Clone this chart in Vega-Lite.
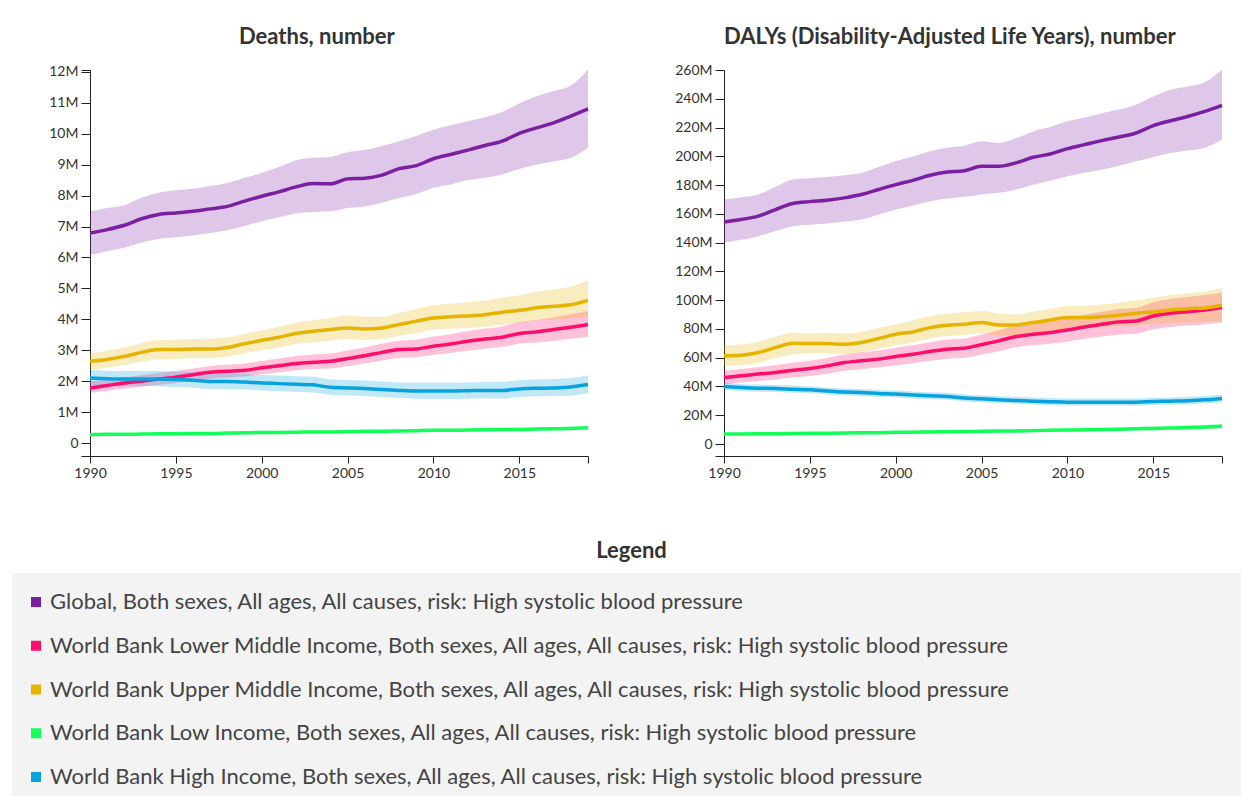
{
  "$schema": "https://vega.github.io/schema/vega-lite/v6.json",
  "padding": {"left": 12, "top": 26, "right": 0, "bottom": 0},
  "background": "white",
  "datasets": {
    "deaths": [
      {"series":"Global","year":1990,"value":6.79,"lower":6.09,"upper":7.49},
      {"series":"Global","year":1991,"value":6.90,"lower":6.20,"upper":7.60},
      {"series":"Global","year":1992,"value":7.04,"lower":6.31,"upper":7.69},
      {"series":"Global","year":1993,"value":7.25,"lower":6.48,"upper":7.93},
      {"series":"Global","year":1994,"value":7.39,"lower":6.60,"upper":8.09},
      {"series":"Global","year":1995,"value":7.44,"lower":6.65,"upper":8.17},
      {"series":"Global","year":1996,"value":7.49,"lower":6.71,"upper":8.22},
      {"series":"Global","year":1997,"value":7.57,"lower":6.79,"upper":8.31},
      {"series":"Global","year":1998,"value":7.65,"lower":6.88,"upper":8.41},
      {"series":"Global","year":1999,"value":7.82,"lower":7.02,"upper":8.57},
      {"series":"Global","year":2000,"value":7.98,"lower":7.17,"upper":8.73},
      {"series":"Global","year":2001,"value":8.12,"lower":7.30,"upper":8.92},
      {"series":"Global","year":2002,"value":8.28,"lower":7.42,"upper":9.14},
      {"series":"Global","year":2003,"value":8.39,"lower":7.47,"upper":9.22},
      {"series":"Global","year":2004,"value":8.38,"lower":7.49,"upper":9.25},
      {"series":"Global","year":2005,"value":8.54,"lower":7.60,"upper":9.40},
      {"series":"Global","year":2006,"value":8.56,"lower":7.65,"upper":9.47},
      {"series":"Global","year":2007,"value":8.66,"lower":7.77,"upper":9.60},
      {"series":"Global","year":2008,"value":8.87,"lower":7.92,"upper":9.76},
      {"series":"Global","year":2009,"value":8.97,"lower":8.05,"upper":9.93},
      {"series":"Global","year":2010,"value":9.19,"lower":8.25,"upper":10.13},
      {"series":"Global","year":2011,"value":9.33,"lower":8.36,"upper":10.27},
      {"series":"Global","year":2012,"value":9.47,"lower":8.50,"upper":10.40},
      {"series":"Global","year":2013,"value":9.62,"lower":8.58,"upper":10.53},
      {"series":"Global","year":2014,"value":9.76,"lower":8.68,"upper":10.70},
      {"series":"Global","year":2015,"value":10.01,"lower":8.86,"upper":10.98},
      {"series":"Global","year":2016,"value":10.19,"lower":9.00,"upper":11.21},
      {"series":"Global","year":2017,"value":10.35,"lower":9.10,"upper":11.38},
      {"series":"Global","year":2018,"value":10.57,"lower":9.22,"upper":11.56},
      {"series":"Global","year":2019,"value":10.80,"lower":9.55,"upper":12.08},
      {"series":"LowerMiddle","year":1990,"value":1.78,"lower":1.62,"upper":1.99},
      {"series":"LowerMiddle","year":1991,"value":1.86,"lower":1.69,"upper":2.05},
      {"series":"LowerMiddle","year":1992,"value":1.94,"lower":1.76,"upper":2.12},
      {"series":"LowerMiddle","year":1993,"value":2.00,"lower":1.82,"upper":2.19},
      {"series":"LowerMiddle","year":1994,"value":2.07,"lower":1.88,"upper":2.26},
      {"series":"LowerMiddle","year":1995,"value":2.13,"lower":1.94,"upper":2.33},
      {"series":"LowerMiddle","year":1996,"value":2.21,"lower":2.01,"upper":2.41},
      {"series":"LowerMiddle","year":1997,"value":2.29,"lower":2.08,"upper":2.49},
      {"series":"LowerMiddle","year":1998,"value":2.32,"lower":2.12,"upper":2.53},
      {"series":"LowerMiddle","year":1999,"value":2.35,"lower":2.15,"upper":2.57},
      {"series":"LowerMiddle","year":2000,"value":2.43,"lower":2.22,"upper":2.65},
      {"series":"LowerMiddle","year":2001,"value":2.50,"lower":2.28,"upper":2.73},
      {"series":"LowerMiddle","year":2002,"value":2.57,"lower":2.35,"upper":2.81},
      {"series":"LowerMiddle","year":2003,"value":2.61,"lower":2.39,"upper":2.86},
      {"series":"LowerMiddle","year":2004,"value":2.64,"lower":2.41,"upper":2.89},
      {"series":"LowerMiddle","year":2005,"value":2.73,"lower":2.49,"upper":2.99},
      {"series":"LowerMiddle","year":2006,"value":2.82,"lower":2.57,"upper":3.09},
      {"series":"LowerMiddle","year":2007,"value":2.93,"lower":2.67,"upper":3.21},
      {"series":"LowerMiddle","year":2008,"value":3.02,"lower":2.75,"upper":3.31},
      {"series":"LowerMiddle","year":2009,"value":3.04,"lower":2.77,"upper":3.34},
      {"series":"LowerMiddle","year":2010,"value":3.13,"lower":2.85,"upper":3.44},
      {"series":"LowerMiddle","year":2011,"value":3.20,"lower":2.91,"upper":3.52},
      {"series":"LowerMiddle","year":2012,"value":3.29,"lower":2.99,"upper":3.62},
      {"series":"LowerMiddle","year":2013,"value":3.36,"lower":3.05,"upper":3.70},
      {"series":"LowerMiddle","year":2014,"value":3.42,"lower":3.11,"upper":3.77},
      {"series":"LowerMiddle","year":2015,"value":3.54,"lower":3.21,"upper":3.91},
      {"series":"LowerMiddle","year":2016,"value":3.59,"lower":3.25,"upper":3.98},
      {"series":"LowerMiddle","year":2017,"value":3.67,"lower":3.31,"upper":4.07},
      {"series":"LowerMiddle","year":2018,"value":3.74,"lower":3.37,"upper":4.16},
      {"series":"LowerMiddle","year":2019,"value":3.83,"lower":3.43,"upper":4.27},
      {"series":"UpperMiddle","year":1990,"value":2.64,"lower":2.37,"upper":2.91},
      {"series":"UpperMiddle","year":1991,"value":2.70,"lower":2.43,"upper":2.98},
      {"series":"UpperMiddle","year":1992,"value":2.80,"lower":2.52,"upper":3.09},
      {"series":"UpperMiddle","year":1993,"value":2.93,"lower":2.63,"upper":3.23},
      {"series":"UpperMiddle","year":1994,"value":3.02,"lower":2.71,"upper":3.33},
      {"series":"UpperMiddle","year":1995,"value":3.02,"lower":2.72,"upper":3.34},
      {"series":"UpperMiddle","year":1996,"value":3.04,"lower":2.74,"upper":3.36},
      {"series":"UpperMiddle","year":1997,"value":3.04,"lower":2.75,"upper":3.37},
      {"series":"UpperMiddle","year":1998,"value":3.09,"lower":2.79,"upper":3.41},
      {"series":"UpperMiddle","year":1999,"value":3.21,"lower":2.90,"upper":3.53},
      {"series":"UpperMiddle","year":2000,"value":3.32,"lower":3.00,"upper":3.64},
      {"series":"UpperMiddle","year":2001,"value":3.42,"lower":3.09,"upper":3.76},
      {"series":"UpperMiddle","year":2002,"value":3.54,"lower":3.20,"upper":3.89},
      {"series":"UpperMiddle","year":2003,"value":3.61,"lower":3.26,"upper":3.97},
      {"series":"UpperMiddle","year":2004,"value":3.67,"lower":3.31,"upper":4.04},
      {"series":"UpperMiddle","year":2005,"value":3.72,"lower":3.36,"upper":4.12},
      {"series":"UpperMiddle","year":2006,"value":3.69,"lower":3.33,"upper":4.08},
      {"series":"UpperMiddle","year":2007,"value":3.72,"lower":3.36,"upper":4.08},
      {"series":"UpperMiddle","year":2008,"value":3.83,"lower":3.46,"upper":4.20},
      {"series":"UpperMiddle","year":2009,"value":3.94,"lower":3.56,"upper":4.33},
      {"series":"UpperMiddle","year":2010,"value":4.04,"lower":3.66,"upper":4.45},
      {"series":"UpperMiddle","year":2011,"value":4.08,"lower":3.70,"upper":4.50},
      {"series":"UpperMiddle","year":2012,"value":4.11,"lower":3.72,"upper":4.55},
      {"series":"UpperMiddle","year":2013,"value":4.15,"lower":3.76,"upper":4.60},
      {"series":"UpperMiddle","year":2014,"value":4.23,"lower":3.83,"upper":4.70},
      {"series":"UpperMiddle","year":2015,"value":4.29,"lower":3.89,"upper":4.78},
      {"series":"UpperMiddle","year":2016,"value":4.37,"lower":3.95,"upper":4.89},
      {"series":"UpperMiddle","year":2017,"value":4.42,"lower":3.99,"upper":4.97},
      {"series":"UpperMiddle","year":2018,"value":4.47,"lower":4.03,"upper":5.06},
      {"series":"UpperMiddle","year":2019,"value":4.61,"lower":4.10,"upper":5.26},
      {"series":"Low","year":1990,"value":0.27,"lower":0.24,"upper":0.30},
      {"series":"Low","year":1991,"value":0.28,"lower":0.25,"upper":0.31},
      {"series":"Low","year":1992,"value":0.28,"lower":0.25,"upper":0.31},
      {"series":"Low","year":1993,"value":0.29,"lower":0.26,"upper":0.32},
      {"series":"Low","year":1994,"value":0.30,"lower":0.27,"upper":0.33},
      {"series":"Low","year":1995,"value":0.30,"lower":0.27,"upper":0.33},
      {"series":"Low","year":1996,"value":0.31,"lower":0.28,"upper":0.34},
      {"series":"Low","year":1997,"value":0.31,"lower":0.28,"upper":0.35},
      {"series":"Low","year":1998,"value":0.32,"lower":0.29,"upper":0.36},
      {"series":"Low","year":1999,"value":0.33,"lower":0.29,"upper":0.37},
      {"series":"Low","year":2000,"value":0.34,"lower":0.30,"upper":0.38},
      {"series":"Low","year":2001,"value":0.34,"lower":0.30,"upper":0.38},
      {"series":"Low","year":2002,"value":0.35,"lower":0.31,"upper":0.39},
      {"series":"Low","year":2003,"value":0.36,"lower":0.32,"upper":0.40},
      {"series":"Low","year":2004,"value":0.36,"lower":0.32,"upper":0.40},
      {"series":"Low","year":2005,"value":0.37,"lower":0.33,"upper":0.41},
      {"series":"Low","year":2006,"value":0.38,"lower":0.34,"upper":0.42},
      {"series":"Low","year":2007,"value":0.38,"lower":0.34,"upper":0.43},
      {"series":"Low","year":2008,"value":0.39,"lower":0.35,"upper":0.44},
      {"series":"Low","year":2009,"value":0.40,"lower":0.36,"upper":0.45},
      {"series":"Low","year":2010,"value":0.41,"lower":0.36,"upper":0.46},
      {"series":"Low","year":2011,"value":0.41,"lower":0.37,"upper":0.46},
      {"series":"Low","year":2012,"value":0.42,"lower":0.37,"upper":0.47},
      {"series":"Low","year":2013,"value":0.43,"lower":0.38,"upper":0.48},
      {"series":"Low","year":2014,"value":0.44,"lower":0.39,"upper":0.49},
      {"series":"Low","year":2015,"value":0.44,"lower":0.39,"upper":0.50},
      {"series":"Low","year":2016,"value":0.45,"lower":0.40,"upper":0.51},
      {"series":"Low","year":2017,"value":0.46,"lower":0.41,"upper":0.52},
      {"series":"Low","year":2018,"value":0.47,"lower":0.42,"upper":0.53},
      {"series":"Low","year":2019,"value":0.49,"lower":0.43,"upper":0.55},
      {"series":"High","year":1990,"value":2.10,"lower":1.87,"upper":2.36},
      {"series":"High","year":1991,"value":2.08,"lower":1.85,"upper":2.34},
      {"series":"High","year":1992,"value":2.07,"lower":1.84,"upper":2.33},
      {"series":"High","year":1993,"value":2.07,"lower":1.84,"upper":2.33},
      {"series":"High","year":1994,"value":2.07,"lower":1.83,"upper":2.33},
      {"series":"High","year":1995,"value":2.05,"lower":1.81,"upper":2.31},
      {"series":"High","year":1996,"value":2.03,"lower":1.79,"upper":2.29},
      {"series":"High","year":1997,"value":1.99,"lower":1.75,"upper":2.25},
      {"series":"High","year":1998,"value":1.99,"lower":1.75,"upper":2.25},
      {"series":"High","year":1999,"value":1.97,"lower":1.73,"upper":2.23},
      {"series":"High","year":2000,"value":1.94,"lower":1.70,"upper":2.20},
      {"series":"High","year":2001,"value":1.92,"lower":1.67,"upper":2.18},
      {"series":"High","year":2002,"value":1.90,"lower":1.65,"upper":2.16},
      {"series":"High","year":2003,"value":1.88,"lower":1.63,"upper":2.14},
      {"series":"High","year":2004,"value":1.80,"lower":1.56,"upper":2.06},
      {"series":"High","year":2005,"value":1.78,"lower":1.54,"upper":2.04},
      {"series":"High","year":2006,"value":1.76,"lower":1.52,"upper":2.02},
      {"series":"High","year":2007,"value":1.73,"lower":1.49,"upper":1.99},
      {"series":"High","year":2008,"value":1.70,"lower":1.46,"upper":1.96},
      {"series":"High","year":2009,"value":1.68,"lower":1.43,"upper":1.95},
      {"series":"High","year":2010,"value":1.68,"lower":1.42,"upper":1.95},
      {"series":"High","year":2011,"value":1.68,"lower":1.42,"upper":1.95},
      {"series":"High","year":2012,"value":1.69,"lower":1.43,"upper":1.96},
      {"series":"High","year":2013,"value":1.70,"lower":1.44,"upper":1.97},
      {"series":"High","year":2014,"value":1.70,"lower":1.44,"upper":1.98},
      {"series":"High","year":2015,"value":1.75,"lower":1.49,"upper":2.03},
      {"series":"High","year":2016,"value":1.77,"lower":1.51,"upper":2.05},
      {"series":"High","year":2017,"value":1.78,"lower":1.52,"upper":2.07},
      {"series":"High","year":2018,"value":1.81,"lower":1.54,"upper":2.10},
      {"series":"High","year":2019,"value":1.89,"lower":1.61,"upper":2.18}
    ],
    "dalys": [
      {"series":"Global","year":1990,"value":154.4,"lower":139.9,"upper":169.9},
      {"series":"Global","year":1991,"value":156.1,"lower":142.0,"upper":171.5},
      {"series":"Global","year":1992,"value":158.4,"lower":144.5,"upper":173.4},
      {"series":"Global","year":1993,"value":163.0,"lower":148.0,"upper":178.8},
      {"series":"Global","year":1994,"value":167.2,"lower":151.4,"upper":183.8},
      {"series":"Global","year":1995,"value":168.5,"lower":152.5,"upper":184.8},
      {"series":"Global","year":1996,"value":169.5,"lower":153.3,"upper":185.6},
      {"series":"Global","year":1997,"value":171.1,"lower":154.6,"upper":186.9},
      {"series":"Global","year":1998,"value":173.4,"lower":156.1,"upper":188.4},
      {"series":"Global","year":1999,"value":176.9,"lower":159.6,"upper":192.6},
      {"series":"Global","year":2000,"value":180.3,"lower":163.0,"upper":196.5},
      {"series":"Global","year":2001,"value":183.3,"lower":165.8,"upper":199.8},
      {"series":"Global","year":2002,"value":186.8,"lower":168.8,"upper":203.5},
      {"series":"Global","year":2003,"value":189.1,"lower":170.7,"upper":206.0},
      {"series":"Global","year":2004,"value":190.0,"lower":171.8,"upper":207.4},
      {"series":"Global","year":2005,"value":193.1,"lower":173.5,"upper":210.4},
      {"series":"Global","year":2006,"value":193.1,"lower":174.6,"upper":209.2},
      {"series":"Global","year":2007,"value":195.4,"lower":177.0,"upper":212.5},
      {"series":"Global","year":2008,"value":199.3,"lower":180.3,"upper":217.3},
      {"series":"Global","year":2009,"value":201.6,"lower":183.0,"upper":220.3},
      {"series":"Global","year":2010,"value":205.3,"lower":186.1,"upper":224.3},
      {"series":"Global","year":2011,"value":208.1,"lower":188.5,"upper":227.0},
      {"series":"Global","year":2012,"value":210.9,"lower":190.7,"upper":230.0},
      {"series":"Global","year":2013,"value":213.4,"lower":193.5,"upper":232.5},
      {"series":"Global","year":2014,"value":216.2,"lower":196.5,"upper":235.8},
      {"series":"Global","year":2015,"value":221.3,"lower":199.5,"upper":241.5},
      {"series":"Global","year":2016,"value":224.7,"lower":202.3,"upper":246.2},
      {"series":"Global","year":2017,"value":227.7,"lower":204.0,"upper":248.5},
      {"series":"Global","year":2018,"value":231.2,"lower":206.0,"upper":251.5},
      {"series":"Global","year":2019,"value":235.4,"lower":211.5,"upper":260.1},
      {"series":"LowerMiddle","year":1990,"value":46.2,"lower":41.6,"upper":50.9},
      {"series":"LowerMiddle","year":1991,"value":47.4,"lower":42.7,"upper":52.2},
      {"series":"LowerMiddle","year":1992,"value":48.6,"lower":43.8,"upper":53.5},
      {"series":"LowerMiddle","year":1993,"value":49.7,"lower":44.8,"upper":54.8},
      {"series":"LowerMiddle","year":1994,"value":51.3,"lower":46.2,"upper":56.5},
      {"series":"LowerMiddle","year":1995,"value":52.5,"lower":47.3,"upper":57.9},
      {"series":"LowerMiddle","year":1996,"value":54.3,"lower":48.9,"upper":59.8},
      {"series":"LowerMiddle","year":1997,"value":56.6,"lower":51.0,"upper":62.3},
      {"series":"LowerMiddle","year":1998,"value":57.8,"lower":52.0,"upper":63.7},
      {"series":"LowerMiddle","year":1999,"value":59.0,"lower":53.1,"upper":65.0},
      {"series":"LowerMiddle","year":2000,"value":60.8,"lower":54.7,"upper":67.0},
      {"series":"LowerMiddle","year":2001,"value":62.4,"lower":56.2,"upper":68.7},
      {"series":"LowerMiddle","year":2002,"value":64.3,"lower":57.9,"upper":70.8},
      {"series":"LowerMiddle","year":2003,"value":65.9,"lower":59.3,"upper":72.6},
      {"series":"LowerMiddle","year":2004,"value":66.6,"lower":59.9,"upper":73.4},
      {"series":"LowerMiddle","year":2005,"value":69.1,"lower":62.2,"upper":76.1},
      {"series":"LowerMiddle","year":2006,"value":71.7,"lower":64.5,"upper":79.0},
      {"series":"LowerMiddle","year":2007,"value":74.7,"lower":67.2,"upper":82.3},
      {"series":"LowerMiddle","year":2008,"value":76.3,"lower":68.6,"upper":84.1},
      {"series":"LowerMiddle","year":2009,"value":77.5,"lower":69.7,"upper":85.5},
      {"series":"LowerMiddle","year":2010,"value":79.3,"lower":71.3,"upper":87.5},
      {"series":"LowerMiddle","year":2011,"value":81.4,"lower":73.1,"upper":89.9},
      {"series":"LowerMiddle","year":2012,"value":83.2,"lower":74.7,"upper":91.9},
      {"series":"LowerMiddle","year":2013,"value":84.9,"lower":76.2,"upper":93.8},
      {"series":"LowerMiddle","year":2014,"value":85.5,"lower":76.7,"upper":94.6},
      {"series":"LowerMiddle","year":2015,"value":89.0,"lower":79.8,"upper":98.6},
      {"series":"LowerMiddle","year":2016,"value":90.9,"lower":81.4,"upper":100.8},
      {"series":"LowerMiddle","year":2017,"value":92.0,"lower":82.3,"upper":102.2},
      {"series":"LowerMiddle","year":2018,"value":93.2,"lower":83.2,"upper":103.6},
      {"series":"LowerMiddle","year":2019,"value":94.8,"lower":84.4,"upper":105.2},
      {"series":"UpperMiddle","year":1990,"value":61.3,"lower":54.3,"upper":68.7},
      {"series":"UpperMiddle","year":1991,"value":61.7,"lower":54.8,"upper":69.1},
      {"series":"UpperMiddle","year":1992,"value":63.6,"lower":56.5,"upper":71.0},
      {"series":"UpperMiddle","year":1993,"value":67.0,"lower":59.6,"upper":74.5},
      {"series":"UpperMiddle","year":1994,"value":70.0,"lower":62.4,"upper":77.6},
      {"series":"UpperMiddle","year":1995,"value":69.8,"lower":63.1,"upper":77.0},
      {"series":"UpperMiddle","year":1996,"value":69.8,"lower":63.0,"upper":77.1},
      {"series":"UpperMiddle","year":1997,"value":69.4,"lower":62.6,"upper":76.8},
      {"series":"UpperMiddle","year":1998,"value":70.5,"lower":63.6,"upper":78.0},
      {"series":"UpperMiddle","year":1999,"value":73.3,"lower":66.2,"upper":80.8},
      {"series":"UpperMiddle","year":2000,"value":76.3,"lower":68.7,"upper":83.2},
      {"series":"UpperMiddle","year":2001,"value":77.9,"lower":70.6,"upper":85.8},
      {"series":"UpperMiddle","year":2002,"value":80.9,"lower":73.3,"upper":89.0},
      {"series":"UpperMiddle","year":2003,"value":82.5,"lower":75.0,"upper":90.8},
      {"series":"UpperMiddle","year":2004,"value":83.2,"lower":75.8,"upper":91.6},
      {"series":"UpperMiddle","year":2005,"value":84.4,"lower":77.0,"upper":92.5},
      {"series":"UpperMiddle","year":2006,"value":82.8,"lower":75.6,"upper":90.8},
      {"series":"UpperMiddle","year":2007,"value":82.8,"lower":75.8,"upper":90.2},
      {"series":"UpperMiddle","year":2008,"value":84.4,"lower":77.2,"upper":92.0},
      {"series":"UpperMiddle","year":2009,"value":86.2,"lower":78.8,"upper":94.0},
      {"series":"UpperMiddle","year":2010,"value":87.9,"lower":80.2,"upper":95.9},
      {"series":"UpperMiddle","year":2011,"value":87.9,"lower":80.4,"upper":96.2},
      {"series":"UpperMiddle","year":2012,"value":88.5,"lower":81.0,"upper":97.0},
      {"series":"UpperMiddle","year":2013,"value":89.5,"lower":81.8,"upper":98.2},
      {"series":"UpperMiddle","year":2014,"value":90.9,"lower":82.6,"upper":100.0},
      {"series":"UpperMiddle","year":2015,"value":91.8,"lower":83.2,"upper":101.7},
      {"series":"UpperMiddle","year":2016,"value":93.2,"lower":84.0,"upper":103.4},
      {"series":"UpperMiddle","year":2017,"value":94.1,"lower":84.5,"upper":104.8},
      {"series":"UpperMiddle","year":2018,"value":94.6,"lower":84.9,"upper":106.0},
      {"series":"UpperMiddle","year":2019,"value":96.4,"lower":85.5,"upper":108.7},
      {"series":"Low","year":1990,"value":6.9,"lower":6.1,"upper":7.8},
      {"series":"Low","year":1991,"value":7.0,"lower":6.2,"upper":7.9},
      {"series":"Low","year":1992,"value":7.1,"lower":6.3,"upper":8.0},
      {"series":"Low","year":1993,"value":7.2,"lower":6.4,"upper":8.1},
      {"series":"Low","year":1994,"value":7.3,"lower":6.5,"upper":8.2},
      {"series":"Low","year":1995,"value":7.4,"lower":6.6,"upper":8.3},
      {"series":"Low","year":1996,"value":7.5,"lower":6.7,"upper":8.4},
      {"series":"Low","year":1997,"value":7.7,"lower":6.8,"upper":8.6},
      {"series":"Low","year":1998,"value":7.8,"lower":6.9,"upper":8.7},
      {"series":"Low","year":1999,"value":7.9,"lower":7.0,"upper":8.9},
      {"series":"Low","year":2000,"value":8.1,"lower":7.2,"upper":9.1},
      {"series":"Low","year":2001,"value":8.2,"lower":7.3,"upper":9.2},
      {"series":"Low","year":2002,"value":8.4,"lower":7.5,"upper":9.4},
      {"series":"Low","year":2003,"value":8.5,"lower":7.6,"upper":9.5},
      {"series":"Low","year":2004,"value":8.7,"lower":7.7,"upper":9.7},
      {"series":"Low","year":2005,"value":8.8,"lower":7.8,"upper":9.9},
      {"series":"Low","year":2006,"value":9.0,"lower":8.0,"upper":10.1},
      {"series":"Low","year":2007,"value":9.1,"lower":8.1,"upper":10.2},
      {"series":"Low","year":2008,"value":9.3,"lower":8.3,"upper":10.4},
      {"series":"Low","year":2009,"value":9.5,"lower":8.4,"upper":10.6},
      {"series":"Low","year":2010,"value":9.7,"lower":8.6,"upper":10.9},
      {"series":"Low","year":2011,"value":9.9,"lower":8.8,"upper":11.1},
      {"series":"Low","year":2012,"value":10.1,"lower":9.0,"upper":11.3},
      {"series":"Low","year":2013,"value":10.3,"lower":9.1,"upper":11.6},
      {"series":"Low","year":2014,"value":10.6,"lower":9.4,"upper":11.9},
      {"series":"Low","year":2015,"value":10.8,"lower":9.6,"upper":12.1},
      {"series":"Low","year":2016,"value":11.1,"lower":9.8,"upper":12.5},
      {"series":"Low","year":2017,"value":11.4,"lower":10.1,"upper":12.8},
      {"series":"Low","year":2018,"value":11.8,"lower":10.4,"upper":13.3},
      {"series":"Low","year":2019,"value":12.4,"lower":10.9,"upper":14.0},
      {"series":"High","year":1990,"value":40.0,"lower":37.6,"upper":42.5},
      {"series":"High","year":1991,"value":39.3,"lower":36.9,"upper":41.8},
      {"series":"High","year":1992,"value":38.8,"lower":36.4,"upper":41.3},
      {"series":"High","year":1993,"value":38.6,"lower":36.2,"upper":41.1},
      {"series":"High","year":1994,"value":38.1,"lower":35.7,"upper":40.6},
      {"series":"High","year":1995,"value":37.7,"lower":35.3,"upper":40.2},
      {"series":"High","year":1996,"value":36.8,"lower":34.4,"upper":39.3},
      {"series":"High","year":1997,"value":36.1,"lower":33.7,"upper":38.6},
      {"series":"High","year":1998,"value":35.8,"lower":33.4,"upper":38.3},
      {"series":"High","year":1999,"value":35.1,"lower":32.7,"upper":37.6},
      {"series":"High","year":2000,"value":34.7,"lower":32.3,"upper":37.2},
      {"series":"High","year":2001,"value":34.0,"lower":31.6,"upper":36.5},
      {"series":"High","year":2002,"value":33.5,"lower":31.1,"upper":36.0},
      {"series":"High","year":2003,"value":33.1,"lower":30.7,"upper":35.6},
      {"series":"High","year":2004,"value":31.9,"lower":29.5,"upper":34.4},
      {"series":"High","year":2005,"value":31.4,"lower":29.0,"upper":33.9},
      {"series":"High","year":2006,"value":30.7,"lower":28.3,"upper":33.2},
      {"series":"High","year":2007,"value":30.3,"lower":27.9,"upper":32.8},
      {"series":"High","year":2008,"value":29.8,"lower":27.4,"upper":32.3},
      {"series":"High","year":2009,"value":29.4,"lower":27.0,"upper":31.9},
      {"series":"High","year":2010,"value":29.1,"lower":26.7,"upper":31.6},
      {"series":"High","year":2011,"value":29.1,"lower":26.7,"upper":31.6},
      {"series":"High","year":2012,"value":29.1,"lower":26.7,"upper":31.7},
      {"series":"High","year":2013,"value":29.1,"lower":26.7,"upper":31.7},
      {"series":"High","year":2014,"value":29.1,"lower":26.6,"upper":31.7},
      {"series":"High","year":2015,"value":29.6,"lower":27.1,"upper":32.2},
      {"series":"High","year":2016,"value":29.8,"lower":27.3,"upper":32.4},
      {"series":"High","year":2017,"value":30.1,"lower":27.5,"upper":32.8},
      {"series":"High","year":2018,"value":30.7,"lower":28.1,"upper":33.4},
      {"series":"High","year":2019,"value":31.7,"lower":29.0,"upper":34.5}
    ],
    "legend": [
      {"label":"Global, Both sexes, All ages, All causes, risk: High systolic blood pressure"},
      {"label":"World Bank Lower Middle Income, Both sexes, All ages, All causes, risk: High systolic blood pressure"},
      {"label":"World Bank Upper Middle Income, Both sexes, All ages, All causes, risk: High systolic blood pressure"},
      {"label":"World Bank Low Income, Both sexes, All ages, All causes, risk: High systolic blood pressure"},
      {"label":"World Bank High Income, Both sexes, All ages, All causes, risk: High systolic blood pressure"}
    ]
  },
  "vconcat": [
    {
      "hconcat": [
        {
          "title": {"text": "Deaths, number", "offset": 14, "frame": "bounds", "dx": -5},
          "width": 498,
          "height": 386,
          "data": {"name": "deaths"},
          "encoding": {
            "x": {"field": "year", "type": "quantitative", "title": null,
              "scale": {"domain": [1990, 2019], "nice": false, "zero": false},
              "axis": {"values": [1990, 1995, 2000, 2005, 2010, 2015, 2019], "tickCount": 40, "format": "d", "labelExpr": "datum.value == 2019 ? '' : datum.label", "tickSize": 7, "labelPadding": 3, "labelOverlap": false, "labelFlush": false}},
            "color": {"field": "series", "type": "nominal", "legend": null,
              "scale": {"domain": ["Global", "LowerMiddle", "UpperMiddle", "Low", "High"], "range": ["#7b1fa2", "#ff0d6a", "#e6b400", "#12ff5a", "#08a2df"]}}
          },
          "layer": [
            {"mark": {"type": "area", "opacity": 0.25, "interpolate": "monotone"},
             "encoding": {
               "y": {"field": "lower", "type": "quantitative", "title": null,
                 "scale": {"domain": [-0.42, 12.06], "nice": false, "zero": false},
                 "axis": {"values": [-0.42, 0, 1, 2, 3, 4, 5, 6, 7, 8, 9, 10, 11, 12, 12.06], "tickCount": 40, "labelExpr": "datum.value < 0 || datum.value > 12 ? '' : (datum.value == 0 ? '0' : datum.value + 'M')", "tickSize": 9, "labelPadding": 3, "labelOverlap": false, "labelFlush": false}},
               "y2": {"field": "upper"}
             }},
            {"mark": {"type": "line", "strokeWidth": 3.5, "interpolate": "monotone"},
             "encoding": {"y": {"field": "value", "type": "quantitative", "title": null}}}
          ]
        },
        {
          "title": {"text": "DALYs (Disability-Adjusted Life Years), number", "offset": 14, "frame": "bounds", "dx": -2},
          "width": 498,
          "height": 386,
          "data": {"name": "dalys"},
          "encoding": {
            "x": {"field": "year", "type": "quantitative", "title": null,
              "scale": {"domain": [1990, 2019], "nice": false, "zero": false},
              "axis": {"values": [1990, 1995, 2000, 2005, 2010, 2015, 2019], "tickCount": 40, "format": "d", "labelExpr": "datum.value == 2019 ? '' : datum.label", "tickSize": 7, "labelPadding": 3, "labelOverlap": false, "labelFlush": false}},
            "color": {"field": "series", "type": "nominal", "legend": null,
              "scale": {"domain": ["Global", "LowerMiddle", "UpperMiddle", "Low", "High"], "range": ["#7b1fa2", "#ff0d6a", "#e6b400", "#12ff5a", "#08a2df"]}}
          },
          "layer": [
            {"mark": {"type": "area", "opacity": 0.25, "interpolate": "monotone"},
             "encoding": {
               "y": {"field": "lower", "type": "quantitative", "title": null,
                 "scale": {"domain": [-8.34, 260], "nice": false, "zero": false},
                 "axis": {"values": [-8.34, 0, 20, 40, 60, 80, 100, 120, 140, 160, 180, 200, 220, 240, 260], "tickCount": 40, "labelExpr": "datum.value < 0 ? '' : (datum.value == 0 ? '0' : datum.value + 'M')", "tickSize": 9, "labelPadding": 3, "labelOverlap": false, "labelFlush": false}},
               "y2": {"field": "upper"}
             }},
            {"mark": {"type": "line", "strokeWidth": 3.5, "interpolate": "monotone"},
             "encoding": {"y": {"field": "value", "type": "quantitative", "title": null}}}
          ]
        }
      ],
      "spacing": 79
    },
    {
      "title": {"text": "Legend", "dx": -28, "offset": 10, "fontSize": 22},
      "width": 1295,
      "height": 240,
      "view": {"fill": "#f3f3f3", "stroke": null},
      "data": {"name": "legend"},
      "mark": {"type": "square", "opacity": 0, "filled": true},
      "encoding": {
        "color": {"field": "label", "type": "nominal",
          "scale": {"domain": [
            "Global, Both sexes, All ages, All causes, risk: High systolic blood pressure",
            "World Bank Lower Middle Income, Both sexes, All ages, All causes, risk: High systolic blood pressure",
            "World Bank Upper Middle Income, Both sexes, All ages, All causes, risk: High systolic blood pressure",
            "World Bank Low Income, Both sexes, All ages, All causes, risk: High systolic blood pressure",
            "World Bank High Income, Both sexes, All ages, All causes, risk: High systolic blood pressure"],
            "range": ["#7b1fa2", "#ff0d6a", "#e6b400", "#12ff5a", "#08a2df"]},
          "legend": {"orient": "none", "legendX": 13, "legendY": 18, "direction": "vertical", "title": null,
            "symbolType": "square", "symbolSize": 100, "symbolOpacity": 1, "symbolStrokeWidth": 0,
            "labelFontSize": 22, "labelFont": "Lato", "labelColor": "#444", "labelLimit": 1300,
            "rowPadding": 21.75, "labelOffset": 3, "padding": 0}}
      }
    }
  ],
  "spacing": 60,
  "center": true,
  "resolve": {"scale": {"color": "independent"}, "legend": {"color": "independent"}},
  "config": {
    "font": "Lato",
    "view": {"stroke": null},
    "axis": {"labelFont": "Lato", "labelFontSize": 14, "labelColor": "#333", "domainColor": "#222", "tickColor": "#222", "grid": false, "labelFlush": false, "labelOverlap": false},
    "title": {"font": "Lato", "fontSize": 22, "fontWeight": "bold", "color": "#333", "anchor": "middle"}
  }
}
